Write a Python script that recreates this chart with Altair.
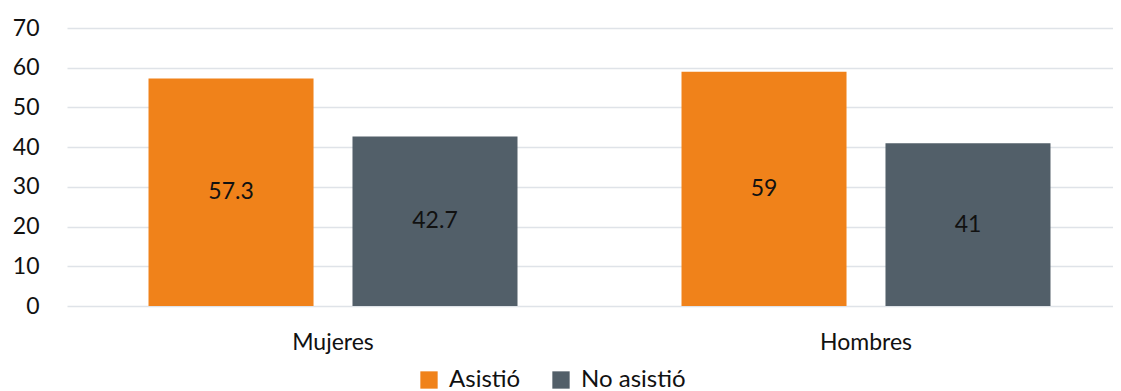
import altair as alt
import pandas as pd

# Data
grupos = ["Mujeres", "Mujeres", "Hombres", "Hombres"]
series = ["Asistió", "No asistió", "Asistió", "No asistió"]
valores = [57.3, 42.7, 59, 41]
etiquetas = ["57.3", "42.7", "59", "41"]
orden_grupos = ["Mujeres", "Hombres"]
orden_series = ["Asistió", "No asistió"]
colores = ["#F0821A", "#525F69"]
y_ticks = [0, 10, 20, 30, 40, 50, 60, 70]

df = pd.DataFrame({"grupo": grupos, "serie": series, "valor": valores, "etiqueta": etiquetas})
df["mitad"] = df["valor"] / 2

FONT = "Lato"
TXT = "#111111"

x_scale = alt.Scale(paddingInner=0.3077, paddingOuter=0.1351, align=0.566)
x_axis = alt.Axis(title=None, labelAngle=0, labelFontSize=23, labelFont=FONT,
                  labelColor=TXT, domain=False, ticks=False, labelPadding=25, grid=False)
xoff = alt.XOffset("serie:N", sort=orden_series,
                   scale=alt.Scale(paddingInner=0.191, paddingOuter=0))
y_scale = alt.Scale(domain=[0, 70], nice=False)
y_axis = alt.Axis(title=None, values=y_ticks, labelFontSize=23, labelFont=FONT,
                  labelColor=TXT, domain=False, ticks=False, labelPadding=28,
                  labelOverlap=False, grid=True, gridColor="#DFE3E8", gridWidth=1.5)

bars = alt.Chart(df).mark_bar().encode(
    x=alt.X("grupo:N", sort=orden_grupos, scale=x_scale, axis=x_axis),
    xOffset=xoff,
    y=alt.Y("valor:Q", scale=y_scale, axis=y_axis),
    color=alt.Color("serie:N", sort=orden_series,
                    scale=alt.Scale(domain=orden_series, range=colores),
                    legend=alt.Legend(title=None, orient="none", legendX=350, legendY=340,
                                      direction="horizontal", symbolType="square",
                                      symbolSize=300, symbolStrokeWidth=0,
                                      labelFontSize=24, labelFont=FONT, labelColor=TXT,
                                      labelOffset=8, columnPadding=28)),
)

labels = alt.Chart(df).mark_text(fontSize=23, font=FONT, color=TXT,
                                 baseline="middle", align="center").encode(
    x=alt.X("grupo:N", sort=orden_grupos, scale=x_scale, axis=x_axis),
    xOffset=xoff,
    y=alt.Y("mitad:Q", scale=y_scale, axis=y_axis),
    text="etiqueta:N",
)

chart = alt.layer(bars, labels).properties(
    width=1046, height=278,
    background="white",
    autosize=alt.AutoSizeParams(type="none"),
    padding={"left": 59, "top": 20, "right": 0, "bottom": 85},
).configure_view(stroke=None)

chart.save("out.html", embed_options={"renderer": "svg", "actions": False})
